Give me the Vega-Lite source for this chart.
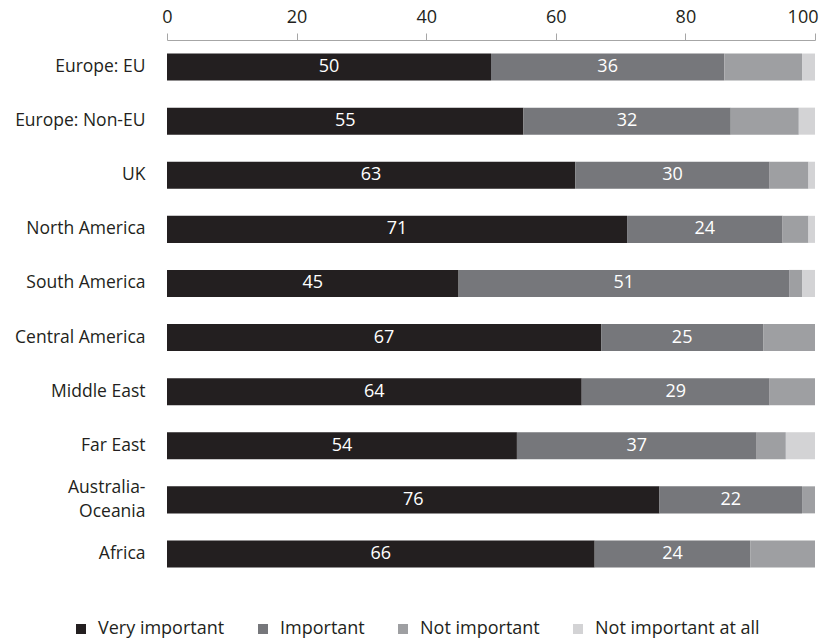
{
  "$schema": "https://vega.github.io/schema/vega-lite/v6.json",
  "autosize": {"type": "none"},
  "padding": {"left": 167, "top": 40, "right": 10, "bottom": 61},
  "width": 648,
  "height": 541,
  "background": "white",
  "config": {
    "font": "Open Sans",
    "view": {"stroke": null}
  },
  "data": {
    "values": [
      {"region": "Europe: EU", "category": "Very important", "o": 1, "value": 50},
      {"region": "Europe: EU", "category": "Important", "o": 2, "value": 36},
      {"region": "Europe: EU", "category": "Not important", "o": 3, "value": 12},
      {"region": "Europe: EU", "category": "Not important at all", "o": 4, "value": 2},
      {"region": "Europe: Non-EU", "category": "Very important", "o": 1, "value": 55},
      {"region": "Europe: Non-EU", "category": "Important", "o": 2, "value": 32},
      {"region": "Europe: Non-EU", "category": "Not important", "o": 3, "value": 10.5},
      {"region": "Europe: Non-EU", "category": "Not important at all", "o": 4, "value": 2.5},
      {"region": "UK", "category": "Very important", "o": 1, "value": 63},
      {"region": "UK", "category": "Important", "o": 2, "value": 30},
      {"region": "UK", "category": "Not important", "o": 3, "value": 6},
      {"region": "UK", "category": "Not important at all", "o": 4, "value": 1},
      {"region": "North America", "category": "Very important", "o": 1, "value": 71},
      {"region": "North America", "category": "Important", "o": 2, "value": 24},
      {"region": "North America", "category": "Not important", "o": 3, "value": 4},
      {"region": "North America", "category": "Not important at all", "o": 4, "value": 1},
      {"region": "South America", "category": "Very important", "o": 1, "value": 45},
      {"region": "South America", "category": "Important", "o": 2, "value": 51},
      {"region": "South America", "category": "Not important", "o": 3, "value": 2},
      {"region": "South America", "category": "Not important at all", "o": 4, "value": 2},
      {"region": "Central America", "category": "Very important", "o": 1, "value": 67},
      {"region": "Central America", "category": "Important", "o": 2, "value": 25},
      {"region": "Central America", "category": "Not important", "o": 3, "value": 8},
      {"region": "Central America", "category": "Not important at all", "o": 4, "value": 0},
      {"region": "Middle East", "category": "Very important", "o": 1, "value": 64},
      {"region": "Middle East", "category": "Important", "o": 2, "value": 29},
      {"region": "Middle East", "category": "Not important", "o": 3, "value": 7},
      {"region": "Middle East", "category": "Not important at all", "o": 4, "value": 0},
      {"region": "Far East", "category": "Very important", "o": 1, "value": 54},
      {"region": "Far East", "category": "Important", "o": 2, "value": 37},
      {"region": "Far East", "category": "Not important", "o": 3, "value": 4.5},
      {"region": "Far East", "category": "Not important at all", "o": 4, "value": 4.5},
      {"region": "Australia-Oceania", "category": "Very important", "o": 1, "value": 76},
      {"region": "Australia-Oceania", "category": "Important", "o": 2, "value": 22},
      {"region": "Australia-Oceania", "category": "Not important", "o": 3, "value": 2},
      {"region": "Australia-Oceania", "category": "Not important at all", "o": 4, "value": 0},
      {"region": "Africa", "category": "Very important", "o": 1, "value": 66},
      {"region": "Africa", "category": "Important", "o": 2, "value": 24},
      {"region": "Africa", "category": "Not important", "o": 3, "value": 10},
      {"region": "Africa", "category": "Not important at all", "o": 4, "value": 0}
    ]
  },
  "transform": [
    {"stack": "value", "groupby": ["region"], "sort": [{"field": "o", "order": "ascending"}], "as": ["x0", "x1"]},
    {"calculate": "(datum.x0 + datum.x1) / 2", "as": "mid"}
  ],
  "encoding": {
    "y": {
      "field": "region",
      "type": "nominal",
      "sort": ["Europe: EU", "Europe: Non-EU", "UK", "North America", "South America", "Central America", "Middle East", "Far East", "Australia-Oceania", "Africa"],
      "scale": {"paddingInner": 0.5, "paddingOuter": 0.25},
      "axis": {
        "title": null,
        "domain": false,
        "ticks": false,
        "labelPadding": 22,
        "labelFontSize": 17.5,
        "labelColor": "#231f20",
        "labelLineHeight": 24,
        "labelOffset": {"condition": {"test": "datum.value == 'Australia-Oceania'", "value": -12}, "value": 0},
        "labelExpr": "datum.value == 'Australia-Oceania' ? ['Australia-', 'Oceania'] : datum.value"
      }
    }
  },
  "layer": [
    {
      "mark": {"type": "bar"},
      "encoding": {
        "x": {
          "field": "x0",
          "type": "quantitative",
          "scale": {"domain": [0, 100], "nice": false},
          "axis": {
            "orient": "top",
            "title": null,
            "values": [0, 20, 40, 60, 80, 100],
            "grid": false,
            "domainColor": "#a6a6a6",
            "tickColor": "#a6a6a6",
            "tickSize": 7,
            "labelPadding": 7,
            "labelFontSize": 18,
            "labelColor": "#231f20",
            "labelFlush": false,
            "labelAlign": {"condition": {"test": "datum.value == 100", "value": "right"}, "value": "center"},
            "labelOffset": {"condition": {"test": "datum.value == 100", "value": 3}, "value": 0}
          }
        },
        "x2": {"field": "x1"},
        "color": {
          "field": "category",
          "type": "nominal",
          "scale": {
            "domain": ["Very important", "Important", "Not important", "Not important at all"],
            "range": ["#231f20", "#76777b", "#9e9fa2", "#d3d3d5"]
          },
          "legend": {
            "title": null,
            "orient": "none",
            "direction": "horizontal",
            "legendX": -95,
            "legendY": 580,
            "symbolType": "square",
            "symbolSize": 100,
            "symbolStrokeWidth": 0,
            "labelFontSize": 18,
            "labelLimit": 400,
            "labelColor": "#231f20",
            "columnPadding": 29,
            "labelOffset": 8
          }
        }
      }
    },
    {
      "transform": [{"filter": "datum.o <= 2"}],
      "mark": {"type": "text", "color": "white", "fontSize": 18, "baseline": "middle"},
      "encoding": {
        "x": {"field": "mid", "type": "quantitative"},
        "text": {"field": "value", "type": "quantitative"}
      }
    }
  ]
}
